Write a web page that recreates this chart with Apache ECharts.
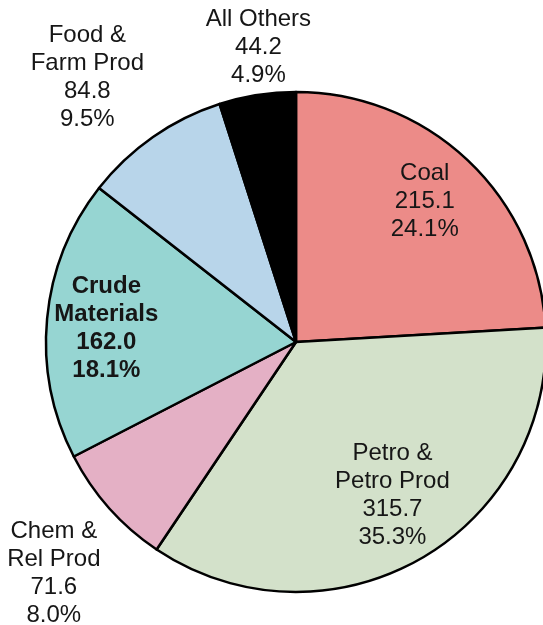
<!DOCTYPE html>
<html>
<head>
<meta charset="utf-8">
<script src="https://cdn.jsdelivr.net/npm/echarts@6/dist/echarts.min.js"></script>
<style>html,body{margin:0;padding:0;background:#fff;}#c{width:543px;height:625px;}</style>
</head>
<body>
<div id="c"></div>
<script>
var categories = ['Coal', 'Petro &\nPetro Prod', 'Chem &\nRel Prod', 'Crude\nMaterials', 'Food &\nFarm Prod', 'All Others'];
var values = [215.1, 315.7, 71.6, 162.0, 84.8, 44.2];
var percents = ['24.1%', '35.3%', '8.0%', '18.1%', '9.5%', '4.9%'];

// styling (not data)
var colors = ['#EC8B88', '#D3E1CA', '#E4B0C5', '#96D5D2', '#B8D5EA', '#000000'];
var labelGroup = ['in', 'in', 'out', 'in', 'out', 'top'];
var labelNudge = [[-2, -2], [2, -12], [8, 9], [0, 4], [-17, 10], [9, 3]];
var boldLabels = ['Crude\nMaterials'];

var center = [296, 342];
var font = '"Liberation Sans", Arial, sans-serif';

function fmt(p) {
  return p.name + '\n' + values[p.dataIndex].toFixed(1) + '\n' + percents[p.dataIndex];
}

function mainData() {
  return categories.map(function (c, i) {
    return { name: c, value: values[i], itemStyle: { color: colors[i] } };
  });
}

function helperData(group) {
  return categories.map(function (c, i) {
    var show = labelGroup[i] === group;
    return {
      name: c, value: values[i],
      label: {
        show: show,
        offset: labelNudge[i],
        fontWeight: boldLabels.indexOf(c) >= 0 ? 'bold' : 'normal'
      }
    };
  });
}

function helper(group, radius) {
  return {
    type: 'pie', center: center, radius: radius, startAngle: 90, clockwise: true,
    silent: true, animation: false, avoidLabelOverlap: false,
    itemStyle: { color: 'rgba(0,0,0,0)', borderWidth: 0 },
    label: {
      show: true, position: 'inside', formatter: fmt,
      fontFamily: font, fontSize: 24, lineHeight: 28, color: '#161616'
    },
    labelLine: { show: false },
    emphasis: { disabled: true },
    data: helperData(group), z: 5
  };
}

var chart = echarts.init(document.getElementById('c'));
chart.setOption({
  backgroundColor: '#ffffff',
  animation: false,
  series: [
    {
      type: 'pie', center: center, radius: 250, startAngle: 90, clockwise: true,
      animation: false, avoidLabelOverlap: false,
      itemStyle: { borderColor: '#000', borderWidth: 2.5 },
      label: { show: false }, labelLine: { show: false },
      emphasis: { disabled: true },
      data: mainData()
    },
    helper('in', [125, 250]),
    helper('out', [280, 384]),
    helper('top', [250, 346])
  ]
});
</script>
</body>
</html>
